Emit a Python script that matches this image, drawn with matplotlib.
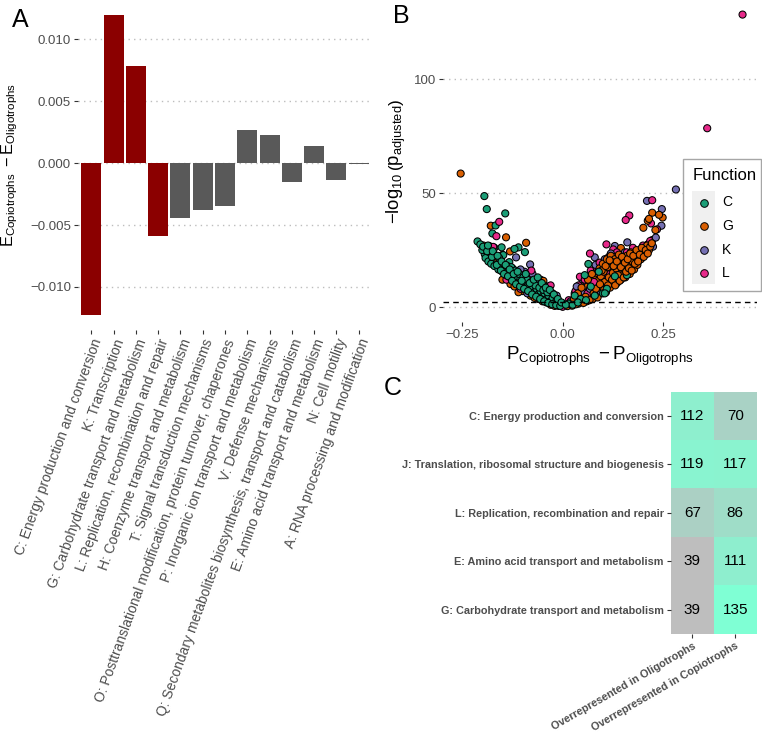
import numpy as np
import matplotlib
matplotlib.use("Agg")
import matplotlib.pyplot as plt
from matplotlib.colors import LinearSegmentedColormap
from matplotlib.patches import Rectangle
from matplotlib.lines import Line2D

plt.rcParams['font.family'] = ['Liberation Sans', 'DejaVu Sans']
plt.rcParams['mathtext.fontset'] = 'custom'
plt.rcParams['mathtext.rm'] = 'Liberation Sans'
plt.rcParams['mathtext.it'] = 'Liberation Sans:italic'
plt.rcParams['mathtext.bf'] = 'Liberation Sans:bold'

# ---- panel A data
cog_labels = ["C: Energy production and conversion", "K: Transcription",
              "G: Carbohydrate transport and metabolism",
              "L: Replication, recombination and repair",
              "H: Coenzyme transport and metabolism",
              "T: Signal transduction mechanisms",
              "O: Posttranslational modification, protein turnover, chaperones",
              "P: Inorganic ion transport and metabolism",
              "V: Defense mechanisms",
              "Q: Secondary metabolites biosynthesis, transport and catabolism",
              "E: Amino acid transport and metabolism",
              "N: Cell motility",
              "A: RNA processing and modification"]
enrich_diff = [-0.0123, 0.0119, 0.0078, -0.0059, -0.0044, -0.0038, -0.0035,
               0.0027, 0.0023, -0.0015, 0.0014, -0.0014, -0.0001]
highlighted = [True, True, True, True, False, False, False,
               False, False, False, False, False, False]

# ---- panel B data
C_x = [-0.195, -0.189, -0.143, -0.167, -0.175, -0.212, -0.183, -0.170, -0.152, -0.110,
       -0.094, -0.194, -0.148, -0.133, -0.120, -0.200, -0.192, -0.185, -0.178, -0.170,
       -0.165, -0.160, -0.155, -0.150, -0.145, -0.140, -0.135, -0.130, -0.125, -0.120,
       -0.115, -0.110, -0.105, -0.100, -0.095, -0.090, -0.085, -0.080, -0.075, -0.070,
       -0.065, -0.060, -0.055, -0.050, -0.045, -0.040, -0.035, -0.030, -0.025, -0.020,
       -0.015, -0.010, -0.172, -0.158, -0.138, -0.128, -0.118, -0.108, -0.098, -0.088,
       -0.078, -0.068, -0.058, -0.048, -0.038,
       -0.205, -0.198, -0.188, -0.186, -0.176, -0.174, -0.164, -0.162, -0.154, -0.152,
       -0.146, -0.142, -0.136, -0.132, -0.126, -0.122, -0.116, -0.112, -0.106, -0.102,
       -0.096, -0.092, -0.086, -0.082, -0.076, -0.072, -0.066, -0.062, -0.056, -0.052,
       -0.046, -0.042, -0.036, -0.032, -0.026, -0.022, -0.016, -0.012, -0.006, -0.003,
       0.064, 0.030, 0.045, 0.015, 0.070, 0.100, 0.140, 0.120, 0.185, 0.055,
       0.008, 0.025, 0.038, 0.058, 0.080, 0.090, 0.110, 0.130, 0.160, 0.200, 0.105]
C_y = [48.7, 43.0, 41.1, 35.8, 32.3, 28.8, 26.8, 26.0, 26.2, 26.2,
       24.1, 23.2, 22.8, 19.7, 25.5, 25.0, 21.5, 20.0, 19.0, 18.0,
       21.0, 16.5, 19.0, 15.5, 17.0, 14.0, 16.0, 13.0, 15.0, 12.0,
       13.5, 10.5, 12.5, 9.5, 11.0, 8.5, 10.0, 7.5, 9.0, 6.5,
       8.0, 5.5, 7.0, 4.5, 6.0, 3.5, 5.0, 2.5, 4.0, 1.5,
       3.0, 1.0, 23.5, 21.5, 18.0, 17.5, 16.0, 14.5, 13.0, 12.0,
       11.0, 9.5, 8.5, 7.5, 6.5,
       27.5, 26.5, 24.5, 27.0, 22.0, 24.5, 18.5, 22.5, 16.0, 20.0,
       14.5, 18.5, 13.5, 16.5, 11.5, 14.5, 10.0, 15.5, 9.0, 11.5,
       8.0, 14.5, 7.0, 10.5, 5.5, 12.0, 4.5, 13.0, 3.5, 10.5,
       2.5, 8.5, 1.8, 7.5, 1.2, 5.5, 0.8, 3.5, 0.5, 2.0,
       18.9, 5.0, 3.5, 1.5, 9.0, 6.0, 12.0, 20.0, 22.0, 14.0,
       1.0, 1.0, 2.0, 3.0, 5.0, 15.5, 8.0, 13.5, 14.0, 24.0, 6.0]

G_x = [-0.254, -0.179, -0.197, -0.141, -0.091, -0.131, -0.150, -0.136, -0.130, -0.150,
       -0.120, -0.100, -0.080, -0.060, -0.040, -0.030, -0.020, -0.110,
       -0.090, -0.070, -0.050, -0.035, -0.010, -0.160, -0.115, -0.048,
       0.223, 0.249, 0.212, 0.201, 0.231, 0.223, 0.145, 0.240, 0.215,
       0.020, 0.030, 0.035, 0.040, 0.045, 0.050, 0.055, 0.060, 0.062, 0.065,
       0.070, 0.072, 0.075, 0.078, 0.080, 0.082, 0.085, 0.088, 0.090, 0.092,
       0.095, 0.098, 0.100, 0.102, 0.105, 0.108, 0.110, 0.112, 0.115, 0.118,
       0.120, 0.122, 0.125, 0.128, 0.130, 0.133, 0.136, 0.140, 0.143, 0.146,
       0.150, 0.153, 0.156, 0.160, 0.163, 0.167, 0.170, 0.174, 0.178, 0.182,
       0.186, 0.190, 0.195, 0.200, 0.205, 0.210, 0.215,
       0.012, 0.018, 0.024, 0.028, 0.033, 0.038, 0.042, 0.047, 0.052, 0.057,
       0.063, 0.067, 0.073, 0.077, 0.083, 0.087, 0.093, 0.097, 0.103, 0.107,
       0.113, 0.117, 0.123, 0.127, 0.131, 0.135, 0.138, 0.142, 0.145, 0.148,
       0.152, 0.155, 0.158, 0.162, 0.165, 0.168, 0.172, 0.176, 0.180, 0.184,
       0.188, 0.192, 0.197, 0.202, 0.207, 0.212, 0.218, 0.222]
G_y = [58.6, 35.7, 27.0, 30.6, 28.2, 24.4, 22.9, 15.0, 10.1, 12.0,
       9.0, 7.0, 5.0, 3.5, 2.0, 1.0, 0.5, 6.5,
       7.5, 4.0, 2.5, 4.5, 0.5, 20.5, 11.0, 11.5,
       41.4, 39.3, 37.9, 34.8, 33.8, 29.4, 25.9, 40.5, 38.7,
       0.8, 2.0, 4.0, 1.5, 5.5, 3.0, 7.0, 2.5, 9.0, 5.0,
       11.0, 7.5, 3.5, 13.0, 9.5, 5.5, 15.0, 11.5, 7.0, 17.0,
       13.5, 9.0, 19.0, 15.5, 11.0, 6.5, 21.0, 17.5, 13.0, 8.5,
       22.5, 19.0, 15.0, 10.5, 21.0, 17.0, 12.5, 23.0, 19.0, 14.5,
       21.0, 16.5, 13.0, 22.5, 18.5, 14.5, 24.0, 20.0, 16.5, 22.0,
       18.5, 24.5, 21.0, 25.5, 23.0, 27.0, 25.0,
       0.4, 1.5, 0.6, 3.5, 1.2, 6.0, 2.8, 8.5, 1.8, 4.5,
       12.0, 3.0, 14.5, 6.0, 8.0, 4.2, 10.0, 16.0, 7.5, 18.0,
       9.5, 20.5, 12.0, 18.0, 9.5, 20.0, 14.0, 11.5, 17.5, 22.0,
       13.0, 19.5, 15.5, 21.0, 17.0, 23.5, 16.0, 22.5, 19.0, 25.0,
       20.0, 23.0, 26.0, 22.0, 25.0, 23.5, 26.5, 28.0]

K_x = [0.282, 0.210, 0.247, 0.246, 0.161, 0.130, 0.209, 0.198, 0.182, 0.080, 0.049,
       -0.116, -0.081, -0.060, -0.050, -0.040, -0.030, -0.070, -0.100, -0.130, -0.090,
       -0.080, -0.020, -0.055, -0.045,
       -0.075, -0.065, -0.035, -0.025, -0.095, -0.105, -0.045, -0.015, -0.088, -0.058,
       0.030, 0.045, 0.060, 0.075, 0.090, 0.110, 0.140, 0.160, 0.170, 0.185,
       0.200, 0.150, 0.100, 0.120,
       0.020, 0.035, 0.052, 0.068, 0.082, 0.095, 0.105, 0.125, 0.135, 0.155,
       0.165, 0.178, 0.195, 0.212, 0.225, 0.232]
K_y = [51.6, 46.6, 43.0, 35.7, 28.4, 26.8, 26.4, 24.7, 24.7, 21.8, 12.1,
       21.8, 18.7, 10.5, 8.0, 6.0, 4.0, 12.0, 10.0, 12.5, 13.0,
       9.0, 2.0, 12.0, 9.5,
       14.5, 5.5, 9.0, 6.0, 15.5, 16.5, 3.0, 5.0, 6.0, 11.0,
       6.0, 8.0, 10.0, 12.5, 14.0, 16.0, 17.5, 19.0, 21.5, 22.5,
       23.0, 20.0, 18.5, 23.5,
       2.5, 9.0, 6.5, 8.0, 18.5, 6.0, 21.0, 20.5, 10.5, 24.0,
       15.5, 18.0, 24.5, 27.5, 26.5, 30.5]

L_x = [0.448, 0.360, 0.223, 0.166, 0.157, 0.220, 0.235, 0.109, 0.126, 0.068, 0.089, 0.043,
       -0.158, -0.165, -0.173, -0.110, -0.095, -0.075, -0.060, -0.050, -0.035, -0.025,
       -0.140, -0.085, -0.065,
       -0.105, -0.085, -0.070, -0.055, -0.040, -0.030, -0.018, -0.008, -0.125, -0.098, -0.078,
       0.025, 0.040, 0.055, 0.070, 0.085, 0.100, 0.115, 0.135, 0.150, 0.175, 0.190, 0.010,
       0.015, 0.032, 0.048, 0.062, 0.078, 0.092, 0.108, 0.118, 0.132, 0.145,
       0.160, 0.172, 0.185, 0.200, 0.218, 0.000]
L_y = [128.4, 78.5, 46.9, 40.2, 38.2, 36.7, 34.1, 27.5, 25.3, 23.5, 19.2, 13.3,
       37.4, 31.1, 26.4, 11.0, 9.0, 7.0, 6.5, 5.0, 3.0, 2.5,
       12.0, 13.5, 10.5,
       8.0, 11.5, 8.5, 4.0, 7.0, 9.5, 3.5, 1.5, 17.0, 12.0, 16.0,
       3.0, 9.5, 12.0, 16.0, 17.0, 14.0, 22.0, 24.0, 18.0, 26.0, 20.5, 0.8,
       3.0, 7.0, 3.5, 6.0, 11.0, 19.5, 10.0, 14.5, 22.0, 12.0,
       24.0, 19.5, 23.5, 27.0, 29.0, 0.1]

func_names = ["C", "G", "K", "L"]
func_colors = ["#1B9E77", "#D95F02", "#7570B3", "#E7298A"]

# ---- panel C data
heat_rows = ["C: Energy production and conversion",
             "J: Translation, ribosomal structure and biogenesis",
             "L: Replication, recombination and repair",
             "E: Amino acid transport and metabolism",
             "G: Carbohydrate transport and metabolism"]
heat_cols = ["Overrepresented in Oligotrophs", "Overrepresented in Copiotrophs"]
over_oligo = [112, 119, 67, 39, 39]
over_copio = [70, 117, 86, 111, 135]

W, H = 762, 735
fig = plt.figure(figsize=(W / 100, H / 100), dpi=100)

tick_col = "#4D4D4D"
grid_col = "#BDBDBD"

def style(ax):
    for s in ax.spines.values():
        s.set_visible(False)
    ax.tick_params(length=3, width=0.8, color="#333333", labelcolor=tick_col, labelsize=9.5, pad=2)
    ax.yaxis.grid(True, linestyle=(0, (1, 3)), color=grid_col, linewidth=1)
    ax.set_axisbelow(True)

# ---------------- A
axA = fig.add_axes([78 / W, 1 - 330 / H, 294 / W, 330 / H])
style(axA)
xpos = np.arange(1, len(enrich_diff) + 1)
cols = ["#8B0000" if h else "#595959" for h in highlighted]
axA.bar(xpos, enrich_diff, width=0.9, color=cols)
axA.set_xlim(0.4, 13.6)
axA.set_ylim(-0.01347, 0.01315)
axA.set_yticks([-0.010, -0.005, 0.0, 0.005, 0.010])
axA.set_yticklabels(["\u22120.010", "\u22120.005", "0.000", "0.005", "0.010"])
axA.set_xticks(xpos)
axA.set_xticklabels(cog_labels, rotation=70, ha="right", va="top",
                    rotation_mode="anchor", fontsize=10)
axA.set_ylabel(r"$\mathrm{E}_{\mathrm{Copiotrophs}}\ -\mathrm{E}_{\mathrm{Oligotrophs}}$",
               fontsize=11.8, labelpad=7)
fig.text(12 / W, 1 - 20 / H, "A", fontsize=18, va="center", ha="left")

# ---------------- B
axB = fig.add_axes([443 / W, 1 - 321.6 / H, 314 / W, 321.6 / H])
style(axB)
# mix the groups so that no single colour covers the others
groups = [(C_x, C_y), (G_x, G_y), (K_x, K_y), (L_x, L_y)]
px, py, pc = [], [], []
for k in range(max(len(g[0]) for g in groups)):
    for gi in [1, 2, 3, 0]:
        xs, ys = groups[gi]
        if k < len(xs):
            px.append(xs[k])
            py.append(ys[k])
            pc.append(func_colors[gi])
axB.scatter(px, py, s=26, c=pc, edgecolors="black", linewidths=0.75, zorder=3)
axB.axhline(2, color="black", linestyle=(0, (4, 3)), linewidth=1, zorder=4)
axB.set_xlim(-0.298, 0.484)
axB.set_ylim(-6.4, 134.8)
axB.set_xticks([-0.25, 0.0, 0.25])
axB.set_xticklabels(["\u22120.25", "0.00", "0.25"])
axB.set_yticks([0, 50, 100])
axB.set_xlabel(r"$\mathrm{P}_{\mathrm{Copiotrophs}}\ -\mathrm{P}_{\mathrm{Oligotrophs}}$",
               fontsize=13.5, labelpad=3)
axB.set_ylabel(r"$-\log_{10}\left(\mathrm{p}_{\mathrm{adjusted}}\right)$", fontsize=13.3, labelpad=4)
fig.text(393 / W, 1 - 16 / H, "B", fontsize=18, va="center", ha="left")

# legend
fig.add_artist(Rectangle((683 / W, 1 - 291 / H), 78 / W, 132 / H, transform=fig.transFigure,
                         facecolor="white", edgecolor="#A6A6A6", linewidth=1, zorder=3))
fig.add_artist(Rectangle((692 / W, 1 - 284 / H), 23 / W, 93 / H, transform=fig.transFigure,
                         facecolor="#F0F0F0", edgecolor="none", zorder=3.5))
fig.text(693 / W, 1 - 176 / H, "Function", fontsize=12, va="center", ha="left", zorder=5)
for i, (nm, c) in enumerate(zip(func_names, func_colors)):
    yy = 1 - (202.5 + i * 23.5) / H
    fig.add_artist(Line2D([703.5 / W], [yy], marker="o", markersize=5.5, color=c,
                          markeredgecolor="black", markeredgewidth=0.7, linestyle="none",
                          transform=fig.transFigure, zorder=4))
    fig.text(722 / W, yy, nm, fontsize=10, va="center", ha="left", zorder=5)

# ---------------- C
axC = fig.add_axes([670.7 / W, 1 - 634 / H, 86 / W, 242.3 / H])
heat = np.array([over_oligo, over_copio]).T
cmap = LinearSegmentedColormap.from_list("ga", ["#BEBEBE", "#7FFFD4"])
axC.imshow(heat, cmap=cmap, vmin=39, vmax=135, aspect="auto")
for r in range(heat.shape[0]):
    for c in range(heat.shape[1]):
        axC.text(c, r, str(heat[r, c]), ha="center", va="center", fontsize=11, color="black")
for s in axC.spines.values():
    s.set_visible(False)
axC.tick_params(length=3, width=0.8, color="#333333", labelcolor=tick_col, pad=2)
axC.set_yticks(range(len(heat_rows)))
axC.set_yticklabels(heat_rows, fontsize=7.8, fontweight="bold")
axC.set_xticks(range(len(heat_cols)))
axC.set_xticklabels(heat_cols, fontsize=7.8, fontweight="bold", rotation=30,
                    ha="right", va="top", rotation_mode="anchor")
fig.text(384 / W, 1 - 388 / H, "C", fontsize=18, va="center", ha="left")

fig.savefig("out.png", dpi=100)
